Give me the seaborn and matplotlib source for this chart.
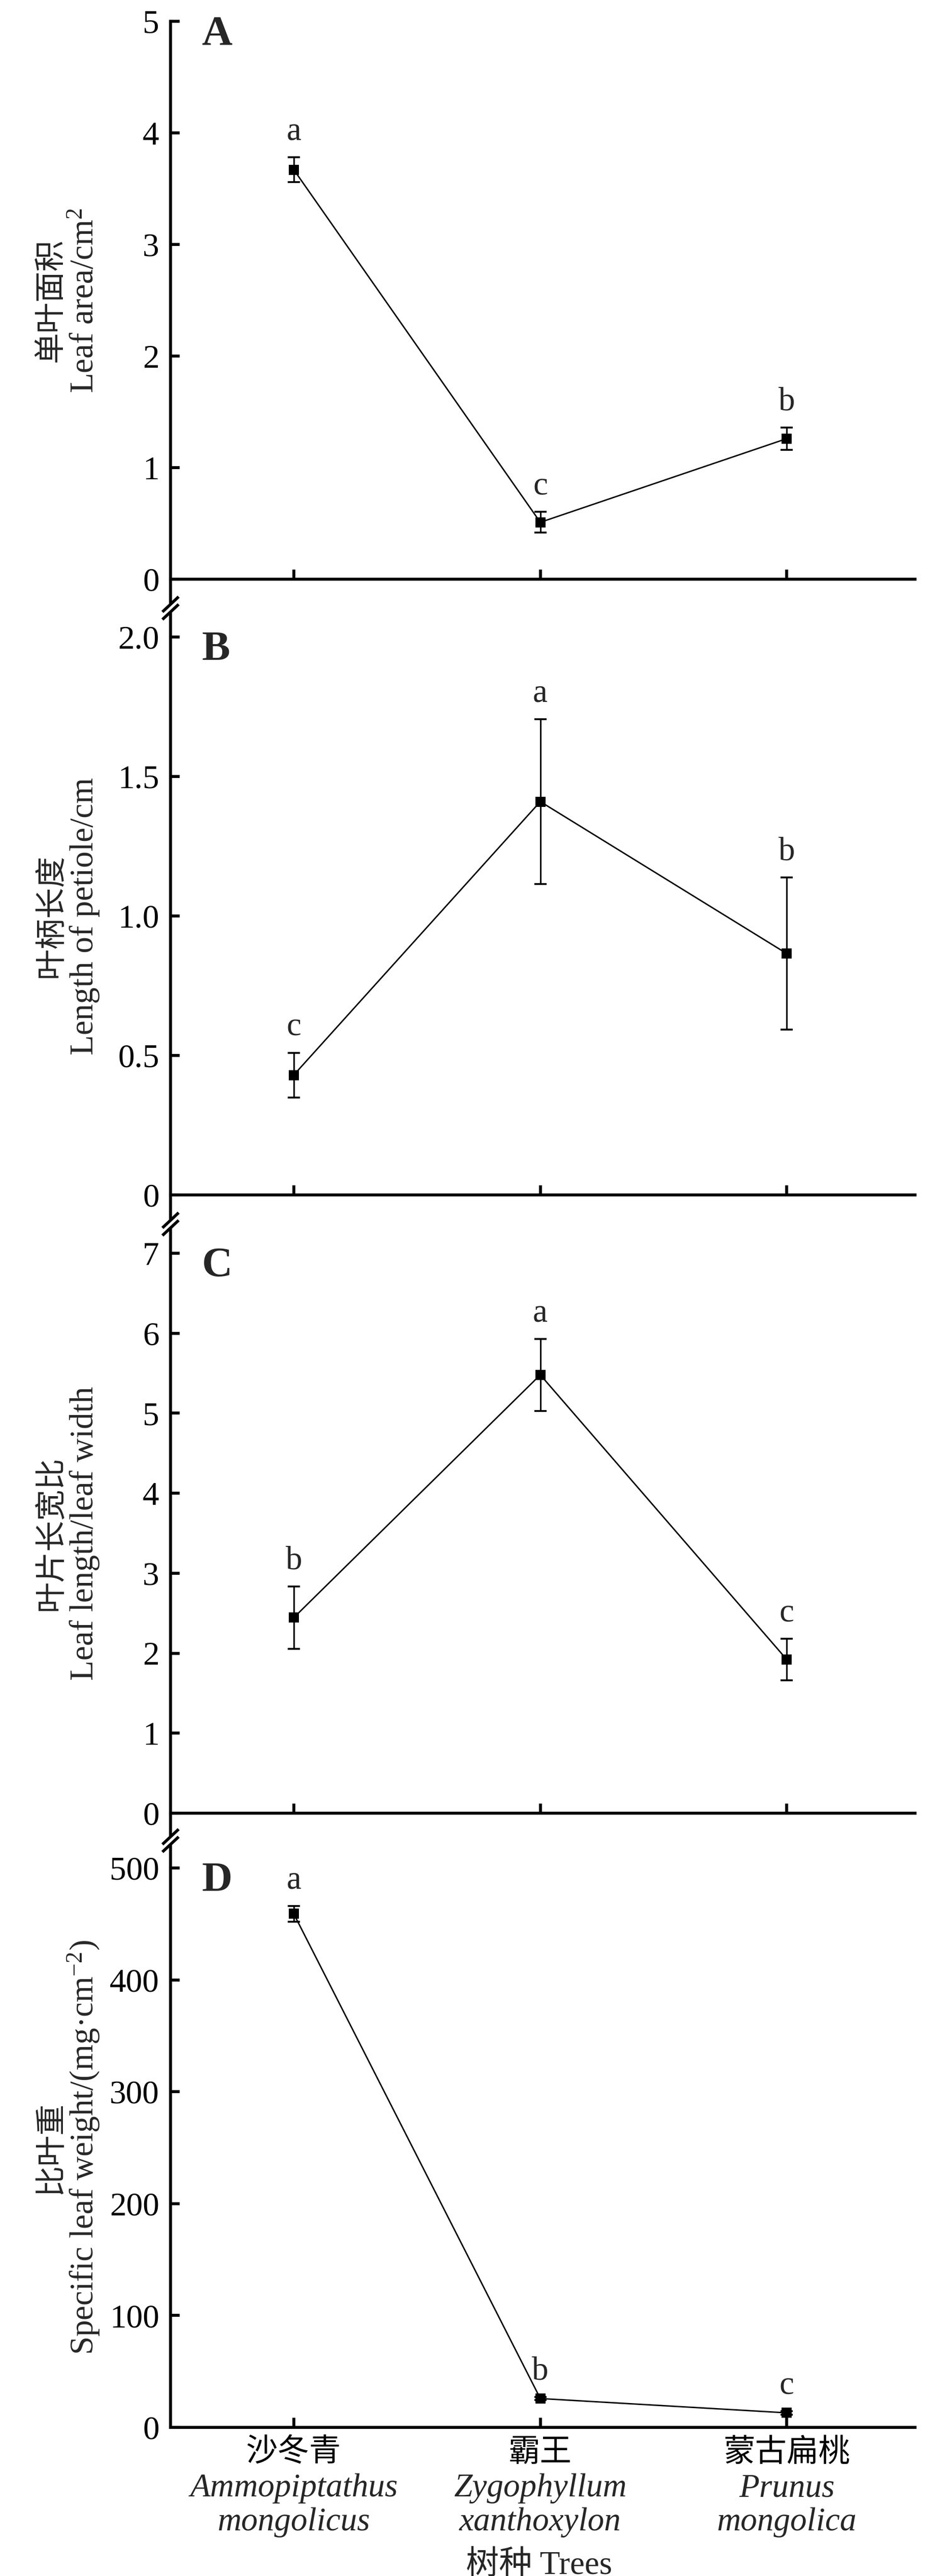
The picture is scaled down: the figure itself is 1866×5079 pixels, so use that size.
import numpy as np
import pandas as pd
import matplotlib
matplotlib.use("Agg")
import matplotlib.pyplot as plt
import seaborn as sns
from matplotlib.lines import Line2D
from matplotlib.patches import Polygon

# ---------------- data ----------------
species_cn = ["沙冬青", "霸王", "蒙古扁桃"]
genus = ["Ammopiptathus", "Zygophyllum", "Prunus"]
epithet = ["mongolicus", "xanthoxylon", "mongolica"]

leaf_area = [3.67, 0.51, 1.26]
leaf_area_err = [0.113, 0.093, 0.10]
leaf_area_sig = ["a", "c", "b"]
leaf_area_ticks = [0, 1, 2, 3, 4, 5]
leaf_area_ticklabels = ["0", "1", "2", "3", "4", "5"]

petiole = [0.43, 1.41, 0.865]
petiole_err = [0.08, 0.295, 0.273]
petiole_sig = ["c", "a", "b"]
petiole_ticks = [0, 0.5, 1.0, 1.5, 2.0]
petiole_ticklabels = ["0", "0.5", "1.0", "1.5", "2.0"]

ratio = [2.445, 5.48, 1.92]
ratio_err = [0.39, 0.45, 0.26]
ratio_sig = ["b", "a", "c"]
ratio_ticks = [0, 1, 2, 3, 4, 5, 6, 7]
ratio_ticklabels = ["0", "1", "2", "3", "4", "5", "6", "7"]

slw = [459.0, 25.8, 13.0]
slw_err = [7.0, 1.5, 1.5]
slw_sig = ["a", "b", "c"]
slw_ticks = [0, 100, 200, 300, 400, 500]
slw_ticklabels = ["0", "100", "200", "300", "400", "500"]

panel_letters = ["A", "B", "C", "D"]
ylabels_cn = ["单叶面积", "叶柄长度", "叶片长宽比", "比叶重"]
ylabels_en = ["Leaf area/cm$^{2}$", "Length of petiole/cm",
              "Leaf length/leaf width", "Specific leaf weight/(mg·cm$^{-2}$)"]
xlabel_text = "树种 Trees"

# ---------------- style ----------------
sns.set_theme(style="ticks")
SERIF = ["Liberation Serif", "Noto Sans CJK SC"]
CJK = ["Noto Sans CJK SC", "DejaVu Sans"]
plt.rcParams["font.family"] = SERIF
plt.rcParams["mathtext.fontset"] = "custom"
plt.rcParams["mathtext.rm"] = "Liberation Serif"
plt.rcParams["mathtext.it"] = "Liberation Serif:italic"
plt.rcParams["axes.unicode_minus"] = True

W, H = 1866, 5079
fig = plt.figure(figsize=(W / 100, H / 100), dpi=100)

# layout in pixels (top, bottom of each panel), spine x and right end
left_px, right_px = 336, 1803
tops = [42, 1256, 2471, 3683]
bottoms = [1142, 2356, 3575, 4786]

panels = [
    (leaf_area, leaf_area_err, leaf_area_sig, leaf_area_ticks, leaf_area_ticklabels),
    (petiole, petiole_err, petiole_sig, petiole_ticks, petiole_ticklabels),
    (ratio, ratio_err, ratio_sig, ratio_ticks, ratio_ticklabels),
    (slw, slw_err, slw_sig, slw_ticks, slw_ticklabels),
]

TXT = 47
SPW = 4.2
axes = []
for k, (vals, errs, sig, ticks, tlabels) in enumerate(panels):
    ax = fig.add_axes([left_px / W, 1 - bottoms[k] / H,
                       (right_px - left_px) / W, (bottoms[k] - tops[k]) / H])
    axes.append(ax)
    df = pd.DataFrame({"species": species_cn, "value": vals, "err": errs})
    sns.pointplot(data=df, x="species", y="value", color="black", markers="s",
                  errorbar=None, ax=ax, markersize=15, linewidth=2.0,
                  markeredgewidth=0, zorder=3)
    xpos = np.arange(len(species_cn))
    ax.errorbar(xpos, df["value"], yerr=df["err"], fmt="none", ecolor="black",
                elinewidth=2.2, capsize=8.3, capthick=2.6, zorder=2, clip_on=False)
    for i, s in enumerate(sig):
        ax.annotate(s, xy=(xpos[i], vals[i] + errs[i]), xytext=(0, 25),
                    textcoords="offset points", ha="center", va="baseline",
                    fontsize=TXT, family=SERIF)
    ax.set_ylim(ticks[0], ticks[-1])
    ax.set_xlim(-0.5, 2.52)
    ax.set_yticks(ticks)
    ax.set_yticklabels(tlabels)
    sns.despine(ax=ax)
    for side in ["left", "bottom"]:
        ax.spines[side].set_linewidth(SPW)
        ax.spines[side].set_color("black")
    ax.tick_params(axis="both", direction="in", length=13, width=SPW,
                   colors="black", labelsize=TXT, pad=16)
    ax.tick_params(axis="x", length=13.5)
    ax.set_xlabel("")
    ax.set_ylabel("")
    ax.grid(False)
    ax.set_facecolor("white")
    if k < 3:
        ax.tick_params(axis="x", labelbottom=False)
    else:
        ax.set_xticks(xpos)
        ax.set_xticklabels(species_cn, family=CJK, fontsize=45)
        ax.tick_params(axis="x", pad=12)
        for i in range(len(species_cn)):
            ax.annotate(genus[i], xy=(xpos[i], 0), xycoords=("data", "axes fraction"),
                        xytext=(0, -98), textcoords="offset points", ha="center",
                        va="baseline", fontsize=TXT, style="italic",
                        family=["Liberation Serif"], annotation_clip=False)
            ax.annotate(epithet[i], xy=(xpos[i], 0), xycoords=("data", "axes fraction"),
                        xytext=(0, -146), textcoords="offset points", ha="center",
                        va="baseline", fontsize=TXT, style="italic",
                        family=["Liberation Serif"], annotation_clip=False)
        ax.annotate(xlabel_text, xy=(0.495, 0), xycoords="axes fraction",
                    xytext=(0, -208), textcoords="offset points", ha="center",
                    va="baseline", fontsize=TXT, family=SERIF,
                    annotation_clip=False)
    # panel letter
    ax.text(0.042, 1 + 12 / (bottoms[k] - tops[k]), panel_letters[k],
            transform=ax.transAxes, ha="left", va="top", fontsize=60,
            fontweight="bold", family=["Liberation Serif"])
    # y labels (two lines)
    ax.text((183 - left_px) / (right_px - left_px), 0.5, ylabels_en[k],
            transform=ax.transAxes, rotation=90, rotation_mode="anchor",
            ha="center", va="baseline", fontsize=TXT, family=SERIF)
    ax.text((117 - left_px) / (right_px - left_px), 0.5, ylabels_cn[k],
            transform=ax.transAxes, rotation=90, rotation_mode="anchor",
            ha="center", va="baseline", fontsize=44, family=CJK)

# continuous left axis line between panels, with break marks
xs = left_px / W
for k in range(3):
    y0 = 1 - bottoms[k] / H
    y1 = 1 - tops[k + 1] / H
    fig.add_artist(Line2D([xs, xs], [y0, y1], transform=fig.transFigure,
                          color="black", lw=SPW, solid_capstyle="butt"))
    ym = 1 - (bottoms[k] + tops[k + 1]) / 2 / H
    yu, yl = ym + 7.5 / H, ym - 7.5 / H
    fig.add_artist(Polygon([(xs - 14 / W, yu - 13 / H), (xs + 14 / W, yu + 13 / H),
                            (xs + 14 / W, yl + 13 / H), (xs - 14 / W, yl - 13 / H)],
                           closed=True, transform=fig.transFigure,
                           facecolor="white", edgecolor="none", zorder=5))
    for yc in (yu, yl):
        fig.add_artist(Line2D([xs - 16 / W, xs + 16 / W], [yc - 15 / H, yc + 15 / H],
                              transform=fig.transFigure, color="black", lw=SPW,
                              solid_capstyle="butt", zorder=6))

fig.savefig("out.png", dpi=100, facecolor="white")
